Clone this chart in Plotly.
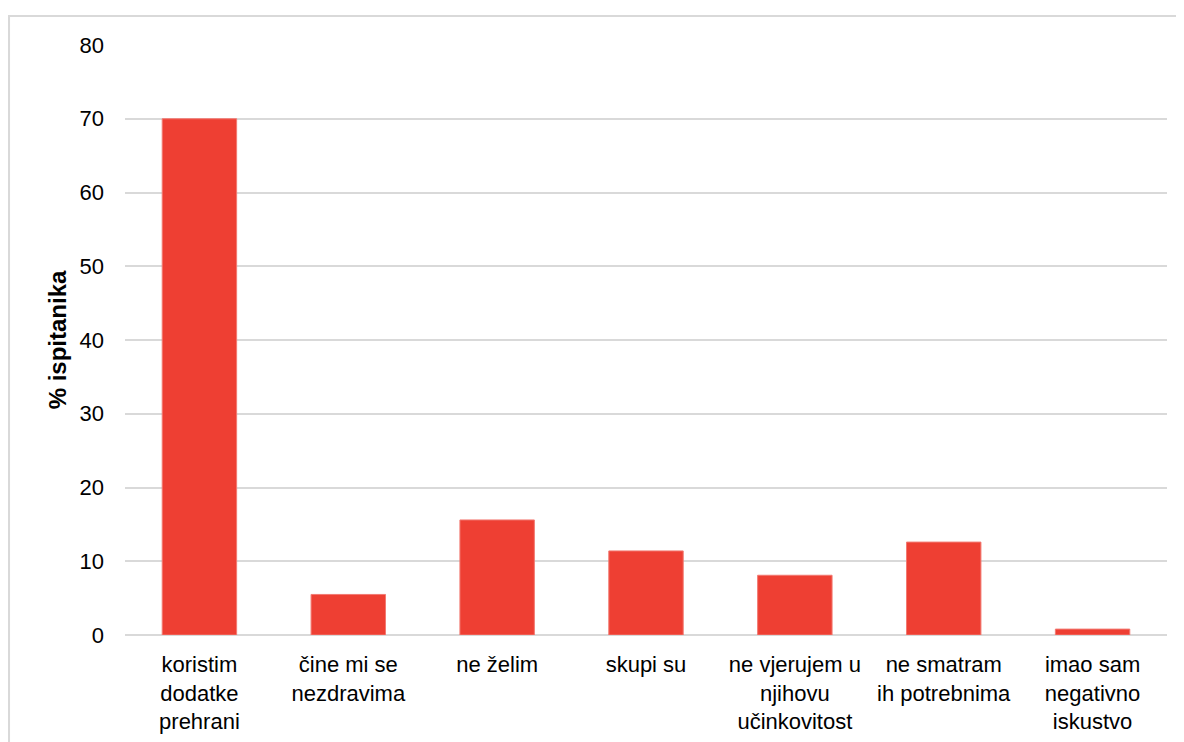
import plotly.graph_objects as go

categories = [
    "koristim<br>dodatke<br>prehrani",
    "čine mi se<br>nezdravima",
    "ne želim",
    "skupi su",
    "ne vjerujem u<br>njihovu<br>učinkovitost",
    "ne smatram<br>ih potrebnima",
    "imao sam<br>negativno<br>iskustvo",
]
values = [70.0, 5.5, 15.6, 11.4, 8.1, 12.6, 0.8]
y_ticks = [0, 10, 20, 30, 40, 50, 60, 70, 80]

FONT = "Liberation Sans, Arial, sans-serif"

fig = go.Figure()
fig.add_trace(go.Bar(
    x=categories,
    y=values,
    marker=dict(color="#EE3F33", line=dict(color="#F27A72", width=1)),
    width=0.5,
))

fig.update_layout(
    width=1184,
    height=742,
    margin=dict(l=117, r=25, t=37, b=115),
    paper_bgcolor="white",
    plot_bgcolor="white",
    showlegend=False,
    font=dict(family=FONT, size=22, color="#000000"),
    shapes=[
        dict(
            type="path",
            xref="paper",
            yref="paper",
            path="M -0.1113,-0.2 L -0.1113,1.0492 L 1.03,1.0492",
            line=dict(color="#D9D9D9", width=2),
        )
    ],
)

fig.update_xaxes(
    type="category",
    showgrid=False,
    showline=False,
    ticks="",
    tickfont=dict(size=22, color="#000000"),
    ticklabelstandoff=14,
)
fig.update_yaxes(
    range=[0, 80],
    tickvals=y_ticks,
    showgrid=True,
    gridcolor="#D9D9D9",
    gridwidth=2,
    zeroline=True,
    zerolinecolor="#D9D9D9",
    zerolinewidth=2,
    showline=False,
    ticks="",
    ticklabelstandoff=20,
    tickfont=dict(size=22, color="#000000"),
    title=dict(text="<b>% ispitanika</b>", font=dict(size=24, color="#000000"), standoff=6),
)

fig.write_html("out.html")
